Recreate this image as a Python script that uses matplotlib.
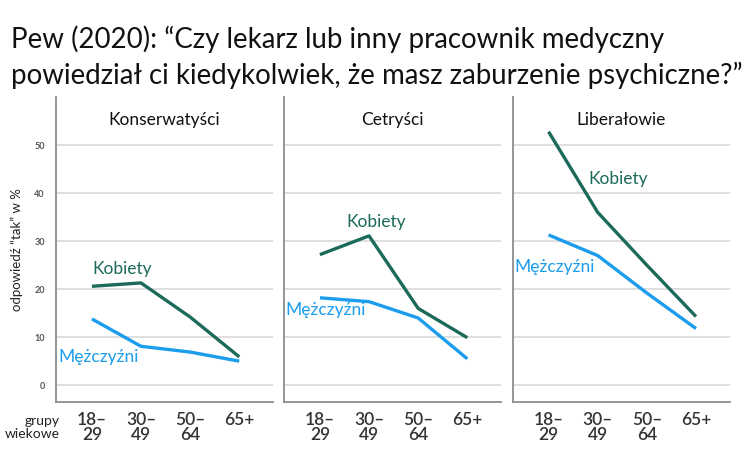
import matplotlib.pyplot as plt

plt.rcParams['font.family'] = ['Lato', 'DejaVu Sans']

age_groups = ["18–\n29", "30–\n49", "50–\n64", "65+"]
panels = ["Konserwatyści", "Cetryści", "Liberałowie"]
women = [
    [20.6, 21.3, 14.2, 5.9],
    [27.2, 31.1, 16.0, 9.9],
    [52.8, 36.0, 25.0, 14.3],
]
men = [
    [13.8, 8.1, 6.9, 5.0],
    [18.2, 17.4, 14.0, 5.5],
    [31.3, 27.0, 19.2, 11.8],
]
yticks = [0, 10, 20, 30, 40, 50]

# label spots (x, y) in data units
women_lab = [(0.0, 24.3), (0.54, 33.9), (0.81, 43.0)]
men_lab = [(-0.69, 5.9), (-0.71, 15.6), (-0.69, 24.7)]

c_women = "#1b6a5a"
c_men = "#1b9cec"
c_grid = "#d9d9d9"
c_axis = "#8c8c8c"

fig = plt.figure(figsize=(7.54, 4.55), dpi=100)

fig.text(0.014, 0.945, "Pew (2020): “Czy lekarz lub inny pracownik medyczny\n"
         "powiedział ci kiedykolwiek, że masz zaburzenie psychiczne?”",
         fontsize=19.9, va="top", ha="left", linespacing=1.4, color="#111111")

lefts = [0.0743, 0.3767, 0.680]
x = list(range(len(age_groups)))
for i, name in enumerate(panels):
    ax = fig.add_axes([lefts[i], 0.1165, 0.288, 0.670])
    ax.set_xlim(-0.73, 3.69)
    ax.set_ylim(-3.5, 60)
    for t in yticks:
        ax.axhline(t, color=c_grid, lw=1.2, zorder=0)
    ax.plot(x, women[i], color=c_women, lw=2.4, solid_capstyle="butt")
    ax.plot(x, men[i], color=c_men, lw=2.4, solid_capstyle="butt")
    ax.text(*women_lab[i], "Kobiety", color=c_women, fontsize=12.5, va="center")
    ax.text(*men_lab[i], "Mężczyźni", color=c_men, fontsize=12.5, va="center")
    ax.set_title(name, fontsize=12.5, y=0.88, color="#111111")
    for s in ["top", "right"]:
        ax.spines[s].set_visible(False)
    for s in ["left", "bottom"]:
        ax.spines[s].set_color(c_axis)
        ax.spines[s].set_linewidth(1.3)
    ax.set_xticks(x)
    ax.set_xticklabels(age_groups, fontsize=12.5, fontweight="semibold",
                       color="#333333", linespacing=0.95)
    ax.tick_params(length=0, pad=7)
    ax.set_yticks(yticks)
    if i == 0:
        ax.set_yticklabels([str(t) for t in yticks], fontsize=6.5,
                           color="#555555", fontweight="bold")
        ax.tick_params(axis="y", pad=8)
        ax.set_ylabel("odpowiedź “tak” w %", fontsize=9.5, color="#222222",
                      labelpad=8)
    else:
        ax.set_yticklabels([])

fig.text(0.079, 0.0605, "grupy\nwiekowe", fontsize=10, ha="right", va="center",
         color="#222222", linespacing=1.1)

fig.savefig("out.png", dpi=100)
